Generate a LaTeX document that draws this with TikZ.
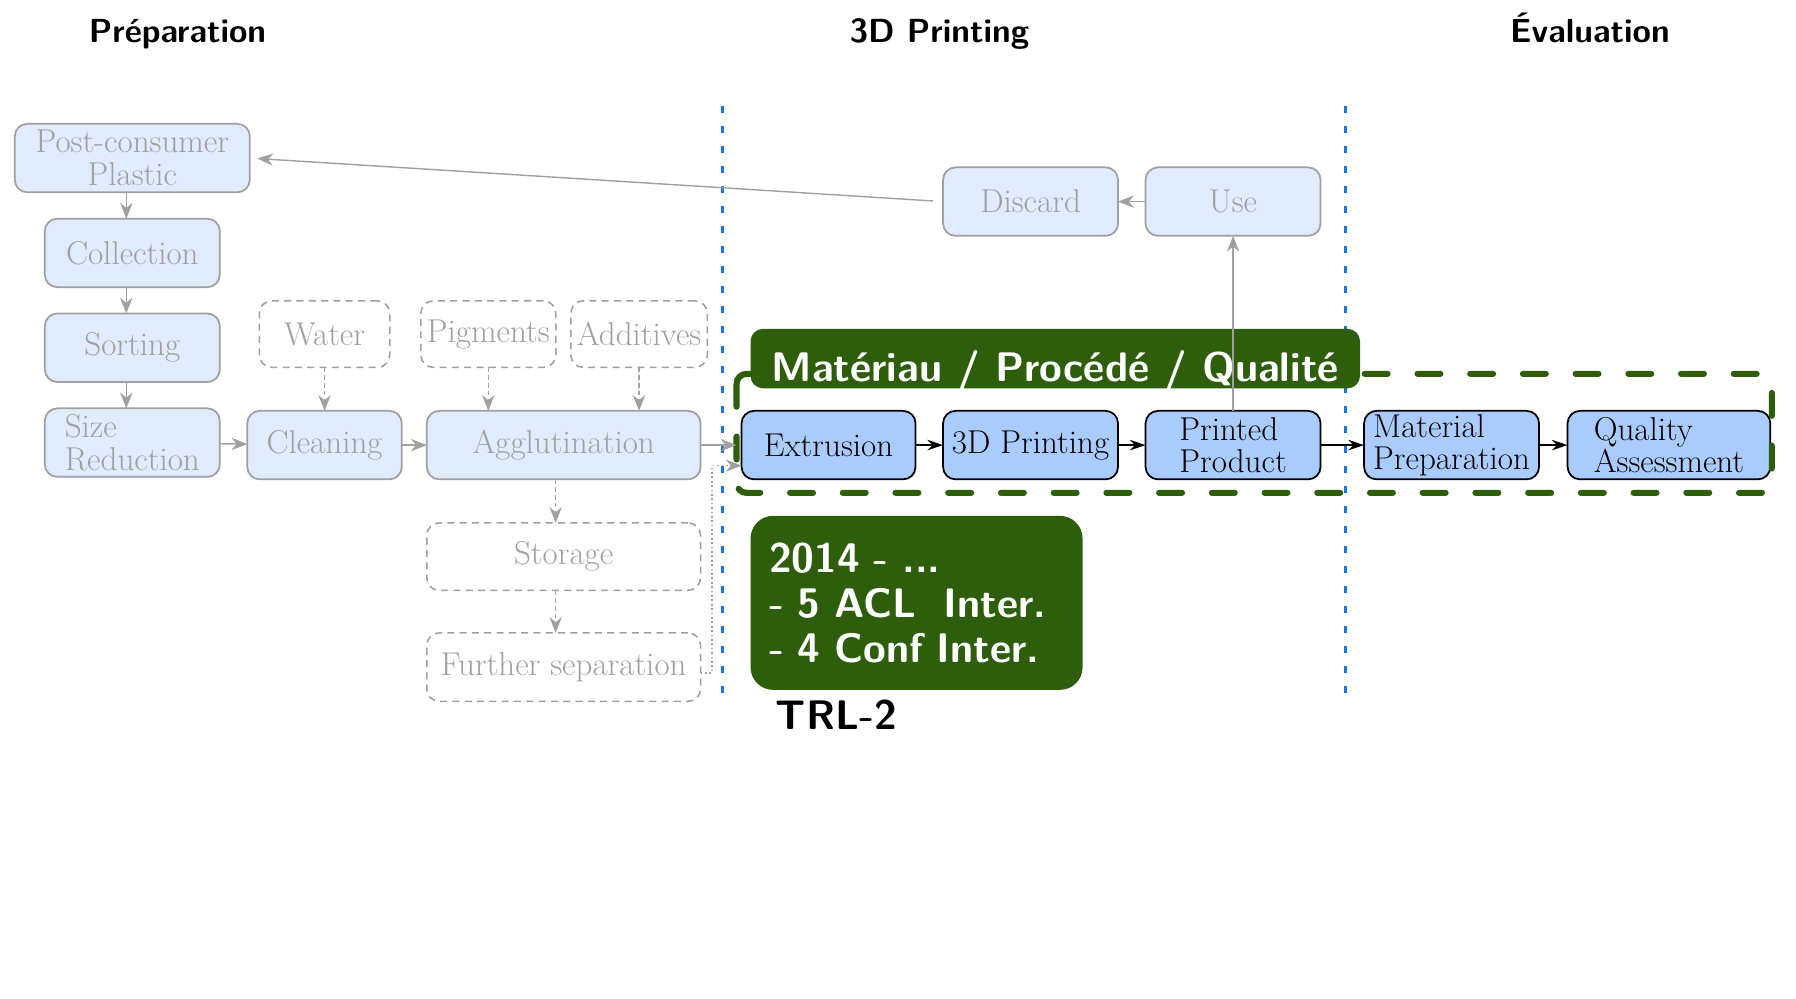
\documentclass[tikz,border=0pt]{standalone}
\usepackage{tikz}
\usetikzlibrary{arrows.meta, positioning, calc}

\definecolor{boxblue}{RGB}{170,204,253}
\definecolor{fadeblue}{RGB}{224,235,254}
\definecolor{fadegray}{RGB}{160,160,160}
\definecolor{darkgreen}{RGB}{46,94,12}
\definecolor{sepblue}{RGB}{26,115,232}

\newcommand{\bodyfont}{\fontsize{18.8}{18.6}\selectfont}
\newcommand{\headfont}{\fontsize{19}{22}\selectfont\sffamily\bfseries}
\newcommand{\bannerfont}{\fontsize{23.5}{25.8}\selectfont\sffamily\bfseries}

\tikzset{
    block_active/.style={rectangle, draw, line width=1pt, rounded corners=0.25cm, fill=boxblue, minimum width=3.5cm, minimum height=1.37cm, inner xsep=0.12cm, inner ysep=0.06cm, outer sep=0pt, align=center, font=\bodyfont},
    block_fade/.style={rectangle, draw=fadegray, line width=1pt, rounded corners=0.25cm, fill=fadeblue, text=fadegray, minimum width=3.5cm, minimum height=1.37cm, inner xsep=0.12cm, inner ysep=0.06cm, outer sep=0pt, align=center, font=\bodyfont},
    block_input/.style={rectangle, draw=fadegray, line width=0.9pt, dash pattern=on 4pt off 3pt, rounded corners=0.25cm, text=fadegray, minimum height=1.33cm, inner xsep=0.1cm, outer sep=0pt, font=\bodyfont},
    green_box/.style={rectangle, fill=darkgreen, text=white, outer sep=0pt, font=\bannerfont},
    arrow/.style={-{Stealth[length=9pt, width=6pt]}, line width=0.9pt},
    arrow_fade/.style={-{Stealth[length=9pt, width=7pt]}, line width=0.8pt, color=fadegray},
    fine_dash/.style={dash pattern=on 2.5pt off 2pt}
}

\begin{document}
\begin{tikzpicture}
    \useasboundingbox (0,0) rectangle (35.92,-19.96);

    % Headers
    \node (h1) [font=\headfont, anchor=base] at (3.55,-0.85) {Préparation};
    \node (h2) [font=\headfont, anchor=base] at (18.79,-0.85) {3D Printing};
    \node (h3) [font=\headfont, anchor=base] at (31.80,-0.85) {Évaluation};

    % Separators
    \draw [sepblue, line width=1.7pt, dash pattern=on 4pt off 7.4pt] (14.455,-2.11) -- (14.455,-13.86);
    \draw [sepblue, line width=1.7pt, dash pattern=on 4pt off 7.4pt] (26.917,-2.11) -- (26.917,-13.86);

    % Preparation
    \node (pcp) [block_fade, minimum width=4.7cm] at (2.646,-3.161) {Post-consumer\\Plastic};
    \node (col) [block_fade, below=0.527cm of pcp] {Collection};
    \node (sor) [block_fade, below=0.527cm of col] {Sorting};
    \node (siz) [block_fade, below=0.527cm of sor, align=left] {Size\\Reduction};
    \node (cle) [block_fade, minimum width=3.09cm, right=0.55cm of siz, yshift=-0.05cm] {Cleaning};
    \node (agg) [block_fade, minimum width=5.475cm, right=0.5cm of cle] {Agglutination};
    \node (sto) [block_input, minimum width=5.475cm, minimum height=1.35cm, below=0.87cm of agg] {Storage};
    \node (fur) [block_input, minimum width=5.475cm, minimum height=1.37cm, below=0.85cm of sto] {Further separation};
    \node (wat) [block_input, minimum width=2.61cm, above=0.87cm of cle] {Water};
    \node (pig) [block_input, minimum width=2.70cm, right=0.62cm of wat] {Pigments};
    \node (add) [block_input, minimum width=2.73cm, right=0.30cm of pig] {Additives};

    % 3D Printing
    \node (ext) [block_active, minimum width=3.48cm, right=0.82cm of agg] {Extrusion};
    \node (prt) [block_active, right=0.55cm of ext] {3D Printing};
    \node (pp) [block_active, right=0.55cm of prt, align=left] {Printed\\Product};
    \node (use) [block_fade, above=3.5cm of pp] {Use};
    \node (dis) [block_fade, left=0.55cm of use] {Discard};

    % Evaluation
    \node (mat) [block_active, right=0.87cm of pp, align=left] {Material\\Preparation};
    \node (qua) [block_active, minimum width=4.055cm, right=0.57cm of mat, align=left] {Quality\\Assessment};

    % Group and labels
    \draw [darkgreen, line width=3.5pt, line cap=round, dash pattern=on 13pt off 17pt, rounded corners=0.2cm]
        ($(ext.north west)+(-0.10,0.74)$) rectangle ($(qua.south east)+(0.03,-0.27)$);
    \node (ban) [green_box, rounded corners=0.25cm, minimum width=12.19cm, text height=1.05cm, text depth=0.14cm, inner ysep=0pt, above right=0.45cm and 0.18cm of ext.north west] {Matériau / Procédé / Qualité};
    \node (inf) [green_box, rounded corners=0.45cm, text width=5.9cm, align=left, inner xsep=0.37cm, minimum height=3.48cm, below right=0.73cm and 0.18cm of ext.south west] {2014 - ...\\- 5 ACL\ \ Inter.\\- 4 Conf Inter.};
    \node (trl) [font=\bannerfont, inner sep=0pt, below right=0.2cm and 0.5cm of inf.south west] {TRL-2};

    % Preparation arrows
    \draw [arrow_fade] ([xshift=-0.12cm]pcp.south) -- ([xshift=-0.12cm]col.north);
    \draw [arrow_fade] ([xshift=-0.12cm]col.south) -- ([xshift=-0.12cm]sor.north);
    \draw [arrow_fade] ([xshift=-0.12cm]sor.south) -- ([xshift=-0.12cm]siz.north);
    \draw [arrow_fade] (siz) -- (cle);
    \draw [arrow_fade] (cle) -- (agg);
    \draw [arrow_fade, fine_dash] (wat.south) -- (cle.north);
    \draw [arrow_fade, fine_dash] (pig.south) -- (pig.south |- agg.north);
    \draw [arrow_fade, fine_dash] (add.south) -- (add.south |- agg.north);
    \draw [arrow_fade, fine_dash] ([xshift=-0.16cm]agg.south) -- ([xshift=-0.16cm]sto.north);
    \draw [arrow_fade, fine_dash] ([xshift=-0.16cm]sto.south) -- ([xshift=-0.16cm]fur.north);
    \draw [arrow_fade, shorten >=0.1cm] (agg) -- (ext);
    \draw [arrow_fade, line width=0.8pt, dash pattern=on 1pt off 1.5pt] ([yshift=-0.12cm]fur.east) -- ++(0.23,0) |- ([yshift=-0.41cm]ext.west);

    % Use and discard
    \draw [arrow_fade] (pp) -- (use);
    \draw [arrow_fade] (use) -- (dis);
    \draw [arrow_fade, shorten <=0.2cm, shorten >=0.15cm] (dis.west) -- (pcp.east);

    % Main chain
    \draw [arrow] (ext) -- (prt);
    \draw [arrow] (prt) -- (pp);
    \draw [arrow] (pp) -- (mat);
    \draw [arrow] (mat) -- (qua);

\end{tikzpicture}
\end{document}
